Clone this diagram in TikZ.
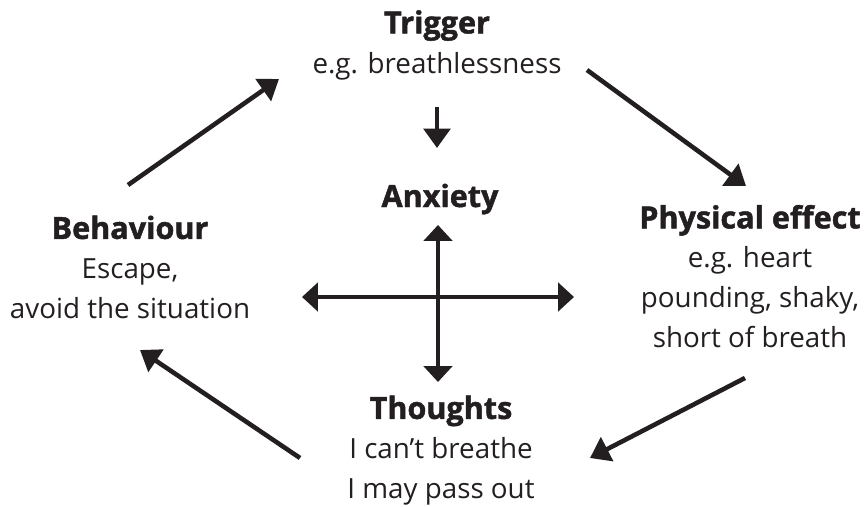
\documentclass[tikz,border=0pt]{standalone}
\usepackage{fontspec}
\setmainfont{Open Sans}[BoldFeatures={FakeBold=1.5}]
\usetikzlibrary{arrows.meta}
\definecolor{ink}{HTML}{231F20}
\newcommand\heading[1]{{\fontsize{17.4}{22.5}\selectfont\bfseries #1}}

\begin{document}
\begin{tikzpicture}[x=0.02cm,y=0.02cm,
  text node/.style={align=center, inner sep=0pt, anchor=base, text=ink, font=\fontsize{15.8}{22.5}\selectfont},
  main arrow/.style={-{Triangle[length=11pt,width=15pt]}, line width=2.6pt, draw=ink},
  cross arrow/.style={{Triangle[length=9pt,width=16pt]}-{Triangle[length=9pt,width=16pt]}, line width=2.4pt, draw=ink}]
  \useasboundingbox (0,0) rectangle (867,-507);

  % blocks (anchored at the baseline of their last line)
  \node[text node] (trigger) at (437,-73) {\heading{Trigger}\\e.g. breathlessness};
  \node[text node] (anxiety) at (440,-207) {\heading{Anxiety}};
  \node[text node] (physical) at (750,-347) {\heading{Physical effect}\\e.g. heart\\pounding, shaky,\\short of breath};
  \node[text node] (thoughts) at (441,-498) {\heading{Thoughts}\\I can’t breathe\\I may pass out};
  \node[text node] (behaviour) at (130,-318) {\heading{Behaviour}\\Escape,\\avoid the situation};

  \coordinate (a1) at (587,-70);  \coordinate (a2) at (746,-186);
  \coordinate (b1) at (745,-378); \coordinate (b2) at (590,-458);
  \coordinate (c1) at (300,-458); \coordinate (c2) at (140,-350);
  \coordinate (d1) at (128,-185); \coordinate (d2) at (279,-79);
  \coordinate (e1) at (437,-107); \coordinate (e2) at (437,-148);
  \coordinate (h1) at (302,-297); \coordinate (h2) at (574,-297);
  \coordinate (v1) at (438,-225); \coordinate (v2) at (438,-382);

  % cycle
  \draw[main arrow] (a1) -- (a2);
  \draw[main arrow] (b1) -- (b2);
  \draw[main arrow] (c1) -- (c2);
  \draw[main arrow] (d1) -- (d2);
  \draw[main arrow] (e1) -- (e2);
  % anxiety cross
  \draw[cross arrow] (h1) -- (h2);
  \draw[cross arrow] (v1) -- (v2);
\end{tikzpicture}
\end{document}
